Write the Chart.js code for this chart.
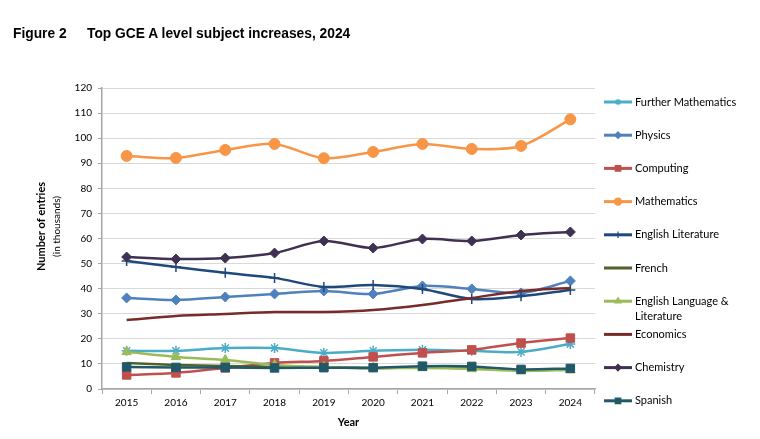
<!DOCTYPE html>
<html>
<head>
<meta charset="utf-8">
<script src="https://cdn.jsdelivr.net/npm/chart.js@4.4.1/dist/chart.umd.min.js"></script>
<style>
  body { margin: 0; background: #fff; }
  #wrap { position: relative; width: 760px; height: 439px; }
  .fig { position: absolute; top: 26px; font: bold 13.8px "Liberation Sans", Arial, sans-serif; color: #000; }
</style>
</head>
<body>
<div id="wrap">
  <div class="fig" style="left:13px">Figure 2</div>
  <div class="fig" style="left:87px">Top GCE A level subject increases, 2024</div>
  <canvas id="chart" width="760" height="439"></canvas>
</div>
<script>
// data (thousands of entries)
const years = ["2015", "2016", "2017", "2018", "2019", "2020", "2021", "2022", "2023", "2024"];
const furtherMaths = [15.2, 15.2, 16.3, 16.3, 14.4, 15.2, 15.6, 15.2, 14.8, 17.9];
const physics = [36.3, 35.5, 36.7, 37.9, 39.1, 37.9, 41.1, 39.9, 38.3, 43.1];
const computing = [5.6, 6.4, 8.4, 10.4, 11.2, 12.8, 14.4, 15.6, 18.3, 20.3];
const mathematics = [92.9, 92.1, 95.3, 97.7, 92.0, 94.5, 97.7, 95.7, 96.9, 107.5];
const englishLit = [51.0, 48.6, 46.3, 44.3, 40.7, 41.5, 39.9, 35.9, 37.0, 39.5];
const french = [10.4, 9.6, 9.2, 8.8, 8.7, 8.3, 8.6, 8.3, 7.5, 7.8];
const englishLangLit = [14.8, 12.8, 11.6, 9.6, 8.8, 8.4, 8.4, 8.0, 7.2, 7.6];
const economics = [27.5, 29.1, 29.9, 30.7, 30.7, 31.5, 33.5, 36.3, 39.1, 40.3];
const chemistry = [52.6, 51.8, 52.2, 54.2, 59.0, 56.2, 59.8, 59.0, 61.4, 62.6];
const spanish = [8.8, 8.6, 8.6, 8.4, 8.5, 8.5, 9.1, 9.0, 7.8, 8.2];

const series = [
  { label: "Further Mathematics", data: furtherMaths, color: "#4BACC6", marker: "star", r: 5 },
  { label: "Physics", data: physics, color: "#4F81BD", marker: "rectRot", r: 5 },
  { label: "Computing", data: computing, color: "#C0504D", marker: "rect", r: 6 },
  { label: "Mathematics", data: mathematics, color: "#F79646", marker: "circle", r: 5.5 },
  { label: "English Literature", data: englishLit, color: "#1F497D", marker: "cross", r: 5 },
  { label: "French", data: french, color: "#4F6228", marker: false, r: 0 },
  { label: ["English Language &", "Literature"], data: englishLangLit, color: "#9BBB59", marker: "triangle", r: 5.5 },
  { label: "Economics", data: economics, color: "#772C2A", marker: false, r: 0 },
  { label: "Chemistry", data: chemistry, color: "#403152", marker: "rectRot", r: 5 },
  { label: "Spanish", data: spanish, color: "#215968", marker: "rect", r: 6 },
];

const font = "Lato, 'Open Sans', sans-serif";

// legend with line + marker, and the two-line y title
const extras = {
  id: "extras",
  afterDraw(chart) {
    const c = chart.ctx;
    const area = chart.chartArea;
    c.save();
    // y axis title
    const midY = (area.top + area.bottom) / 2 - 12;
    c.fillStyle = "#000";
    c.textAlign = "center";
    c.textBaseline = "middle";
    c.translate(41, midY);
    c.rotate(-Math.PI / 2);
    c.font = "bold 11px " + font;
    c.fillText("Number of entries", 0, 0);
    c.font = "10px " + font;
    c.fillText("(in thousands)", 0, 16);
    c.restore();

    // legend
    c.save();
    series.forEach((s, i) => {
      const y = 102 + i * 33.2;
      c.strokeStyle = s.color;
      c.lineWidth = 3;
      c.beginPath();
      c.moveTo(604, y);
      c.lineTo(632, y);
      c.stroke();
      if (s.marker) {
        c.fillStyle = s.color;
        c.strokeStyle = s.color;
        c.lineWidth = 1.2;
        Chart.helpers.drawPoint(c, { pointStyle: s.marker, radius: s.r * 0.65, borderWidth: 1.2 }, 618, y);
      }
      c.fillStyle = "#000";
      c.font = "11px " + font;
      c.textAlign = "left";
      c.textBaseline = "middle";
      const lines = Array.isArray(s.label) ? s.label : [s.label];
      lines.forEach((t, k) => c.fillText(t, 635, y + k * 15));
    });
    c.restore();
  },
};

const ctx = document.getElementById("chart").getContext("2d");
new Chart(ctx, {
  type: "line",
  data: {
    labels: years,
    datasets: series.map((s, i) => ({
      label: Array.isArray(s.label) ? s.label.join(" ") : s.label,
      data: s.data,
      borderColor: s.color,
      backgroundColor: s.color,
      borderWidth: 2.5,
      tension: 0.3,
      pointStyle: s.marker || "circle",
      pointRadius: s.r,
      pointBorderWidth: s.marker === "star" || s.marker === "cross" ? 1.5 : 1,
      order: series.length - i,
    })),
  },
  options: {
    responsive: false,
    animation: false,
    layout: { padding: { left: 0, top: 88, right: 165, bottom: 0 } },
    plugins: {
      legend: { display: false },
      tooltip: { enabled: false },
    },
    scales: {
      x: {
        offset: true,
        grid: { drawOnChartArea: false, offset: true, tickLength: 5, color: "#A6A6A6" },
        border: { color: "#A6A6A6", width: 1.5 },
        ticks: { color: "#000", font: { family: font, size: 10 }, padding: 3 },
        title: { display: true, text: "Year", color: "#000", font: { family: font, size: 11, weight: "bold" }, padding: { top: 0, bottom: 10 } },
        afterFit(scale) { scale.height = 50; },
      },
      y: {
        min: 0,
        max: 120,
        ticks: { stepSize: 10, color: "#000", font: { family: font, size: 10 }, padding: 6 },
        grid: { color: "#D9D9D9", tickLength: 4, tickColor: "#A6A6A6" },
        border: { color: "#A6A6A6", width: 1.5 },
        afterFit(scale) { scale.width = 102; },
      },
    },
  },
  plugins: [extras],
});
</script>
</body>
</html>
